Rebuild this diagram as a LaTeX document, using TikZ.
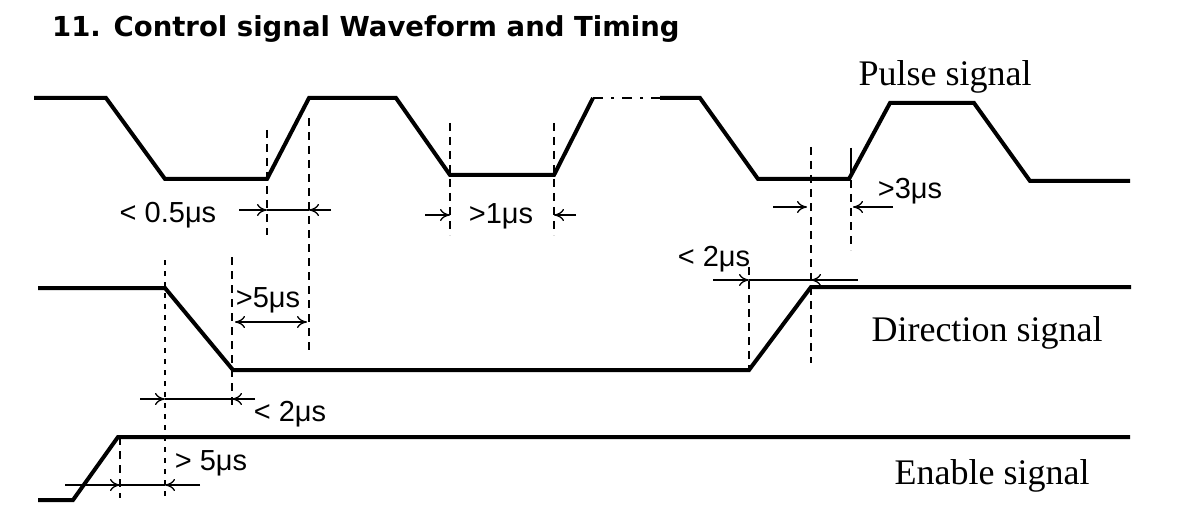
\documentclass[tikz,border=0pt]{standalone}
\usepackage{fontspec}
\setmainfont{Liberation Serif}
\newfontfamily\lab{Liberation Sans}
\newfontfamily\ttl{DejaVu Sans}
\usetikzlibrary{arrows.meta}
\begin{document}
\begin{tikzpicture}[x=1pt,y=-1pt,
  sig/.style={line width=4pt,line join=miter},
  guide/.style={line width=1.5pt,dash pattern=on 8pt off 6pt},
  dotg/.style={line width=2pt,dash pattern=on 5pt off 6pt},
  dim/.style={line width=1.3pt},
  arr/.style={dim,-{To[length=10pt,width=12pt]}},
  small/.style={font=\lab\fontsize{29}{29}\selectfont,inner sep=0pt},
  big/.style={font=\fontsize{36}{36}\selectfont,inner sep=0pt}]
\useasboundingbox (0,0) rectangle (1200,532);
\node[anchor=west,inner sep=0pt,font=\ttl\bfseries\fontsize{27.5}{28}\selectfont] (title) at (52,29) {11. Control signal Waveform and Timing};
% pulse
\draw[sig] (34,98) -- (106,98) -- (165,179) -- (267,179) -- (309,98) -- (396,98) -- (450,175) -- (554,175) -- (593,98);
\draw[line width=2pt,dash pattern=on 10pt off 8pt on 3pt off 8pt] (593,98) -- (660,98);
\draw[sig] (660,98) -- (700,98) -- (758,179) -- (849,179) -- (890,103) -- (974,103) -- (1030,181) -- (1130,181);
\node[big] (pl) at (945,77) {Pulse signal};
% direction
\draw[sig] (38,288) -- (165,288) -- (233,370) -- (749,370) -- (811,287) -- (1131,287);
\node[big] (dl) at (987,333) {Direction signal};
% enable
\draw[sig] (38,500) -- (73,500) -- (118,437) -- (1130,437);
\node[big] (el) at (992,476) {Enable signal};
% guides
\coordinate (g1a) at (267,130); \coordinate (g1b) at (267,235);
\coordinate (g2a) at (309,118); \coordinate (g2b) at (309,353);
\coordinate (g3a) at (450,123); \coordinate (g3b) at (450,235);
\coordinate (g4a) at (554,123); \coordinate (g4b) at (554,235);
\coordinate (g5a) at (811,147); \coordinate (g5b) at (811,363);
\coordinate (g6a) at (851,180); \coordinate (g6b) at (851,250);
\coordinate (g7a) at (749,267); \coordinate (g7b) at (749,370);
\coordinate (g8a) at (232,257); \coordinate (g8b) at (232,410);
\coordinate (g9a) at (165,260); \coordinate (g9b) at (165,498);
\coordinate (g10a) at (120,437); \coordinate (g10b) at (120,498);
\foreach \a/\b in {g1a/g1b,g2a/g2b,g3a/g3b,g4a/g4b,g5a/g5b,g6a/g6b,g7a/g7b,g8a/g8b,g10a/g10b}
  \draw[guide] (\a) -- (\b);
\draw[dotg] (g9a) -- (g9b);
\draw[line width=1.5pt] (851,148) -- (851,178);
% <0.5us
\node[small] (t1) at (168,215) {< 0.5μs};
\draw[arr] (239,210) -- (267,210);
\draw[dim] (267,210) -- (309,210);
\draw[arr] (331,210) -- (309,210);
% >1us
\draw[arr] (425,215) -- (450,215);
\node[small] (t2) at (501,216) {>1μs};
\draw[arr] (576,215) -- (554,215);
% >3us
\draw[arr] (773,207) -- (807,207);
\draw[arr] (893,207) -- (853,207);
\node[small] (t3) at (910,191) {>3μs};
% <2us dir
\node[small] (t4) at (714,259) {< 2μs};
\draw[arr] (713,280) -- (749,280);
\draw[dim] (749,280) -- (811,280);
\draw[arr] (858,280) -- (811,280);
% >5us
\node[small] (t5) at (268,300) {>5μs};
\draw[dim,{To[length=10pt,width=12pt]}-{To[length=10pt,width=12pt]}] (235,322) -- (307,322);
% <2us enable/dir
\draw[arr] (140,399) -- (165,399);
\draw[dim] (165,399) -- (232,399);
\draw[arr] (255,399) -- (232,399);
\node[small] (t6) at (290,414) {< 2μs};
% >5us enable
\draw[arr] (65,485) -- (120,485);
\draw[dim] (120,485) -- (165,485);
\draw[arr] (200,485) -- (165,485);
\node[small] (t7) at (211,463) {> 5μs};
\end{tikzpicture}
\end{document}
